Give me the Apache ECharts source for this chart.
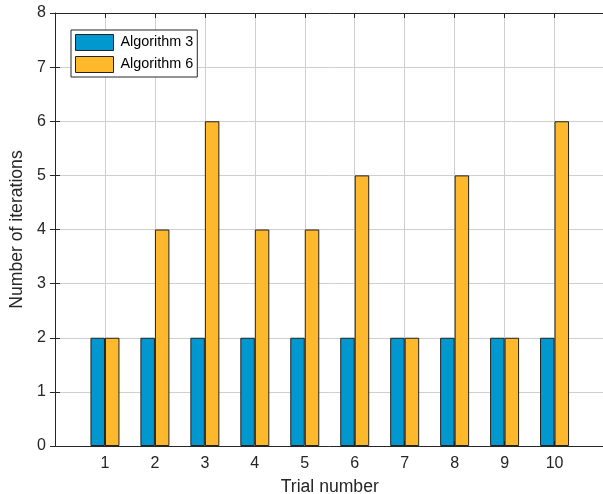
<!DOCTYPE html>
<html>
<head>
<meta charset="utf-8">
<script src="https://cdn.jsdelivr.net/npm/echarts@6/dist/echarts.min.js"></script>
<style>
html,body{margin:0;padding:0;background:#fff;overflow:hidden;}
#chart{width:603px;height:494px;}
</style>
</head>
<body>
<div id="chart"></div>
<script>
const trials = [1, 2, 3, 4, 5, 6, 7, 8, 9, 10];
const algorithm3 = [2, 2, 2, 2, 2, 2, 2, 2, 2, 2];
const algorithm6 = [2, 4, 6, 4, 4, 5, 2, 5, 2, 6];
const seriesNames = ['Algorithm 3', 'Algorithm 6'];
const xTitle = 'Trial number';
const yTitle = 'Number of iterations';

const FONT = '"Liberation Sans", Arial, Helvetica, sans-serif';
const AX = '#262626';
const GRID = '#cfcfcf';

const chart = echarts.init(document.getElementById('chart'), null, {renderer: 'canvas'});

function pairs(vals) { return trials.map((t, i) => [t, vals[i]]); }

const axisCommon = {
  axisLine: {show: true, onZero: false, lineStyle: {color: AX, width: 1}},
  axisTick: {show: true, inside: true, length: 5, lineStyle: {color: AX, width: 1}},
};

chart.setOption({
  animation: false,
  backgroundColor: '#fff',
  textStyle: {fontFamily: FONT},
  grid: {left: 55, right: -1.5, top: 13, bottom: 48, containLabel: false, outerBoundsMode: 'none'},
  legend: {
    orient: 'vertical',
    left: 71, top: 30,
    padding: [4, 4, 4, 4],
    itemWidth: 38, itemHeight: 16, itemGap: 5,
    backgroundColor: '#fff',
    borderColor: AX, borderWidth: 1, borderRadius: 0,
    textStyle: {fontFamily: FONT, fontSize: 14.4, color: '#000', padding: [0, 0, 0, 2]},
    itemStyle: {borderColor: '#222', borderWidth: 1},
    data: seriesNames.map(n => ({name: n, icon: 'rect'}))
  },
  xAxis: [
    Object.assign({
      type: 'value', min: 0, max: 11, interval: 1, position: 'bottom',
      name: xTitle, nameLocation: 'middle', nameGap: 32,
      nameTextStyle: {fontFamily: FONT, fontSize: 17.6, color: AX},
      axisLabel: {fontFamily: FONT, fontSize: 16, color: AX, margin: 10,
        formatter: v => (v >= 1 && v <= 10) ? String(v) : ''},
      splitLine: {show: true, showMaxLine: false, lineStyle: {color: GRID, width: 1}}
    }, axisCommon),
    Object.assign({
      type: 'value', min: 0, max: 11, interval: 1, position: 'top',
      axisLabel: {show: false}, splitLine: {show: false}
    }, axisCommon)
  ],
  yAxis: [
    Object.assign({
      type: 'value', min: 0, max: 8, interval: 1, position: 'left',
      name: yTitle, nameLocation: 'middle', nameGap: 27,
      nameTextStyle: {fontFamily: FONT, fontSize: 17.6, color: AX},
      axisLabel: {fontFamily: FONT, fontSize: 16, color: AX, margin: 9},
      splitLine: {show: true, lineStyle: {color: GRID, width: 1}}
    }, axisCommon),
    {
      type: 'value', min: 0, max: 8, interval: 1, position: 'right',
      axisLine: {show: false},
      axisTick: {show: true, inside: true, length: 5, lineStyle: {color: AX, width: 1}},
      axisLabel: {show: false}, splitLine: {show: false}
    }
  ],
  series: [
    {
      name: seriesNames[0], type: 'bar', xAxisIndex: 0, yAxisIndex: 0,
      data: pairs(algorithm3), barWidth: 14.5, barGap: '0%',
      itemStyle: {color: '#0098ce', borderColor: '#222', borderWidth: 1}
    },
    {
      name: seriesNames[1], type: 'bar', xAxisIndex: 0, yAxisIndex: 0,
      data: pairs(algorithm6), barWidth: 14.5, barGap: '0%',
      itemStyle: {color: '#fdb92b', borderColor: '#222', borderWidth: 1}
    }
  ]
});
</script>
</body>
</html>
